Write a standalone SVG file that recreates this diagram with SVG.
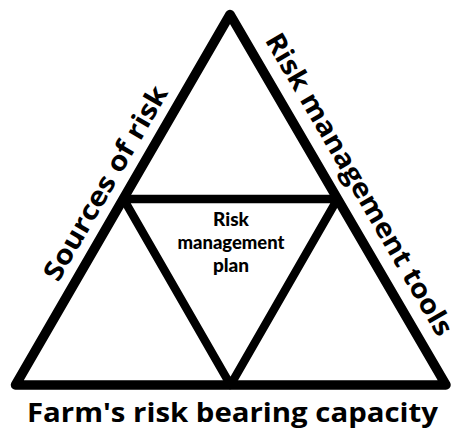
<svg xmlns="http://www.w3.org/2000/svg" width="451" height="430" viewBox="0 0 451 430">
  <style>
    .edge { fill: none; stroke: #000; stroke-linejoin: round; stroke-linecap: round; }
    .label { font-family: "Open Sans", "Liberation Sans", sans-serif; font-weight: 700; fill: #000; text-anchor: middle; }
    .inner { font-family: Lato, "Open Sans", sans-serif; font-weight: 900; }
  </style>
  <rect width="451" height="430" fill="#fff"/>

  <!-- triangle outlines -->
  <g id="connectors">
    <polygon id="outer-triangle" class="edge" stroke-width="9.5" points="230,14.5 15.5,385 446,385"/>
    <polygon id="inner-triangle" class="edge" stroke-width="8.5" points="123.5,199 337.5,199 230.5,385"/>
  </g>

  <!-- side labels -->
  <g id="sources-of-risk">
    <text class="label" font-size="27" textLength="220" lengthAdjust="spacingAndGlyphs" transform="translate(113.4,187.8) rotate(-59.9)">Sources of risk</text>
  </g>
  <g id="risk-management-tools">
    <text class="label" font-size="27" textLength="345" lengthAdjust="spacingAndGlyphs" transform="translate(351.3,189) rotate(59.8)">Risk management tools</text>
  </g>
  <g id="risk-bearing-capacity">
    <text class="label" font-size="27" x="232.5" y="422" textLength="411" lengthAdjust="spacingAndGlyphs">Farm's risk bearing capacity</text>
  </g>

  <!-- centre label -->
  <g id="risk-management-plan">
    <text class="label inner" font-size="19" x="231" y="226">Risk</text>
    <text class="label inner" font-size="19" x="231" y="249" textLength="107" lengthAdjust="spacingAndGlyphs">management</text>
    <text class="label inner" font-size="19" x="231" y="272">plan</text>
  </g>
</svg>
